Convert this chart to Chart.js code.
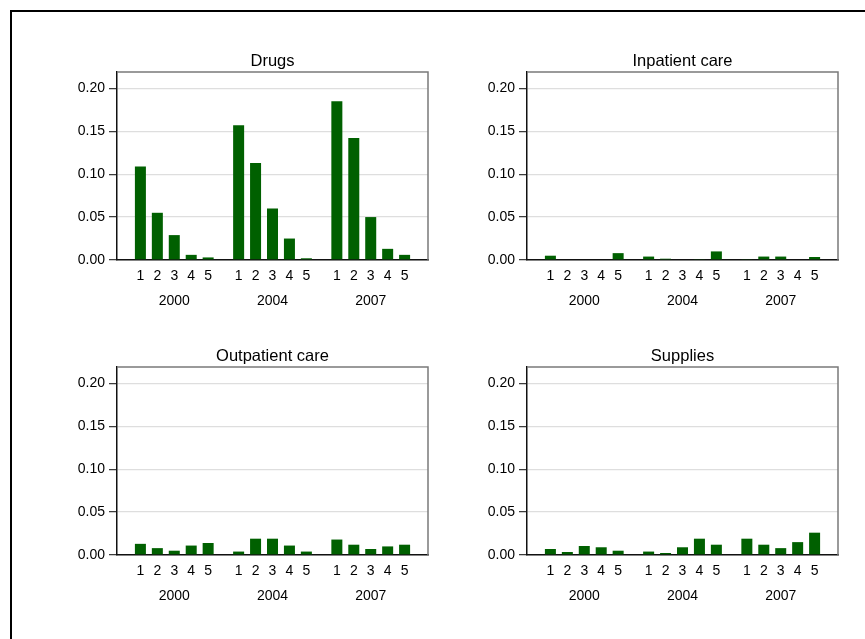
<!DOCTYPE html>
<html>
<head>
<meta charset="utf-8">
<script src="https://cdn.jsdelivr.net/npm/chart.js@4/dist/chart.umd.min.js"></script>
<style>
  html, body { margin: 0; padding: 0; background: #fff; width: 865px; height: 639px; overflow: hidden; }
  #frame { position: absolute; left: 10px; top: 10px; width: 900px; height: 700px; border: 2.5px solid #000; box-sizing: border-box; }
  canvas { position: absolute; }
</style>
</head>
<body>
<div id="frame"></div>
<canvas id="c0"></canvas>
<canvas id="c1"></canvas>
<canvas id="c2"></canvas>
<canvas id="c3"></canvas>
<script>
// Budget share by expenditure quintile, per survey year
const years = ['2000', '2004', '2007'];
const quintiles = ['1', '2', '3', '4', '5'];
const yTicks = [0, 0.05, 0.10, 0.15, 0.20];
const panelTitles = ['Drugs', 'Inpatient care', 'Outpatient care', 'Supplies'];

const drugs      = [0.109, 0.055, 0.029, 0.006, 0.003,  0.157, 0.113, 0.060, 0.025, 0.002,  0.185, 0.142, 0.050, 0.013, 0.006];
const inpatient  = [0.005, 0.000, 0.000, 0.000, 0.008,  0.004, 0.0015, 0.000, 0.001, 0.010,  0.001, 0.004, 0.004, 0.000, 0.0035];
const outpatient = [0.013, 0.008, 0.005, 0.011, 0.014,  0.004, 0.019, 0.019, 0.011, 0.004,  0.018, 0.012, 0.007, 0.010, 0.012];
const supplies   = [0.007, 0.0035, 0.0105, 0.009, 0.005,  0.004, 0.0023, 0.009, 0.019, 0.012,  0.019, 0.012, 0.008, 0.015, 0.026];

const panelData = [drugs, inpatient, outpatient, supplies];

// x positions: five bars per year, years separated by a wider gap
const GROUP_STEP = 5.8;
const xPos = [];
years.forEach((y, g) => quintiles.forEach((q, i) => xPos.push(g * GROUP_STEP + i)));
const xLabel = (idx) => {
  const q = quintiles[idx % 5];
  return (idx % 5 === 2) ? [q, years[Math.floor(idx / 5)]] : q;
};

const FONT = '"Liberation Sans", Arial, Helvetica, sans-serif';
const BAR = '#006000';

// light frame on the top and right of the plot region
const frameLines = {
  id: 'frameLines',
  afterDraw(chart) {
    const { ctx, chartArea: a } = chart;
    ctx.save();
    ctx.strokeStyle = '#7a7a7a';
    ctx.lineWidth = 1.5;
    ctx.beginPath();
    ctx.moveTo(a.left, a.top);
    ctx.lineTo(a.right, a.top);
    ctx.lineTo(a.right, a.bottom);
    ctx.stroke();
    ctx.restore();
  }
};

const placement = [
  { left: 57,  top: 42 },
  { left: 467, top: 42 },
  { left: 57,  top: 337 },
  { left: 467, top: 337 }
];
const W = 381, H = 268;

panelData.forEach((vals, p) => {
  const cv = document.getElementById('c' + p);
  cv.width = W; cv.height = H;
  cv.style.left = placement[p].left + 'px';
  cv.style.top = placement[p].top + 'px';
  cv.style.width = W + 'px';
  cv.style.height = H + 'px';

  new Chart(cv, {
    type: 'bar',
    data: {
      datasets: [{
        data: vals.map((v, i) => ({ x: xPos[i], y: v })),
        backgroundColor: BAR,
        borderWidth: 0,
        barPercentage: 0.65,
        categoryPercentage: 1.0
      }]
    },
    options: {
      responsive: false,
      animation: false,
      devicePixelRatio: 1,
      layout: { padding: { left: 0, right: 10, top: 0, bottom: 0 } },
      plugins: {
        legend: { display: false },
        tooltip: { enabled: false },
        title: {
          display: true,
          fullSize: false,
          text: panelTitles[p],
          color: '#000',
          font: { family: FONT, size: 16.5, weight: 'normal', lineHeight: 1.2 },
          padding: { top: 9.1, bottom: 1.1 }
        }
      },
      scales: {
        x: {
          type: 'linear',
          offset: false,
          bounds: 'data',
          min: -1.382,
          max: 2 * GROUP_STEP + 4 + 1.382,
          grid: { display: false, drawTicks: false, offset: false },
          border: { display: true, color: '#111', width: 1.5 },
          afterBuildTicks: (s) => { s.ticks = xPos.map(v => ({ value: v })); },
          afterFit: (s) => { s.height = 50; },
          ticks: {
            autoSkip: false,
            maxRotation: 0,
            padding: 3.0,
            color: '#000',
            font: { family: FONT, size: 14, lineHeight: 1.82 },
            callback: (v, idx) => xLabel(idx)
          }
        },
        y: {
          min: 0,
          max: 0.219,
          grid: { color: '#dedede', lineWidth: 1.3, drawTicks: true, tickLength: 8, tickColor: '#333', tickWidth: 1.2 },
          border: { display: true, color: '#111', width: 1.5 },
          afterBuildTicks: (s) => { s.ticks = yTicks.map(v => ({ value: v })); },
          afterFit: (s) => { s.width = 60; },
          ticks: {
            padding: 4,
            color: '#000',
            font: { family: FONT, size: 14 },
            callback: (v) => Number(v).toFixed(2)
          }
        }
      }
    },
    plugins: [frameLines]
  });
});
</script>
</body>
</html>
